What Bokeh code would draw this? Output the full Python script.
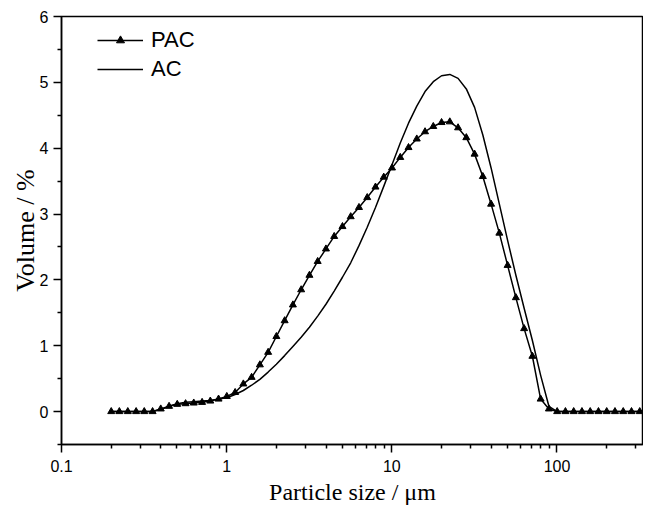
from bokeh.plotting import figure
from bokeh.models import Range1d, FixedTicker, Legend, LegendItem, ColumnDataSource
from bokeh.embed import file_html
from bokeh.resources import INLINE

# Particle size classes (µm)
sizes = [0.2, 0.224, 0.252, 0.283, 0.317, 0.356, 0.399, 0.448, 0.502, 0.564,
         0.632, 0.710, 0.796, 0.893, 1.002, 1.125, 1.262, 1.416, 1.589, 1.783,
         2.000, 2.244, 2.518, 2.825, 3.170, 3.557, 3.991, 4.477, 5.024, 5.637,
         6.325, 7.096, 7.962, 8.934, 10.024, 11.247, 12.619, 14.159, 15.887, 17.825,
         20.000, 22.440, 25.179, 28.251, 31.698, 35.566, 39.905, 44.774, 50.238, 56.368,
         63.246, 70.963, 79.621, 89.337, 100.237, 112.468, 126.191, 141.589, 158.866, 178.250,
         200.000, 224.404, 251.785, 282.508, 316.979]

pac = [0, 0, 0, 0, 0, 0, 0.04, 0.08, 0.11, 0.12,
       0.13, 0.14, 0.16, 0.19, 0.23, 0.29, 0.42, 0.52, 0.71, 0.90,
       1.14, 1.38, 1.62, 1.85, 2.07, 2.28, 2.47, 2.66, 2.81, 2.96,
       3.10, 3.25, 3.41, 3.56, 3.70, 3.86, 4.01, 4.14, 4.25, 4.33,
       4.39, 4.40, 4.31, 4.16, 3.91, 3.57, 3.15, 2.71, 2.22, 1.73,
       1.26, 0.84, 0.19, 0.04, 0, 0, 0, 0, 0, 0,
       0, 0, 0, 0, 0]

ac = [0, 0, 0, 0, 0, 0, 0.03, 0.08, 0.12, 0.14,
      0.15, 0.16, 0.17, 0.19, 0.21, 0.26, 0.32, 0.40, 0.49, 0.60,
      0.72, 0.85, 0.99, 1.13, 1.28, 1.45, 1.63, 1.83, 2.04, 2.26,
      2.52, 2.80, 3.10, 3.42, 3.75, 4.08, 4.38, 4.64, 4.86, 5.01,
      5.10, 5.12, 5.06, 4.90, 4.62, 4.20, 3.70, 3.15, 2.60, 2.07,
      1.57, 1.08, 0.55, 0.08, 0, 0, 0, 0, 0, 0,
      0, 0, 0, 0, 0]

y_ticks = [0, 1, 2, 3, 4, 5, 6]
x_ticks = [0.1, 1, 10, 100]
x_tick_labels = ["0.1", "1", "10", "100"]

src_pac = ColumnDataSource(dict(x=sizes, y=pac))
src_ac = ColumnDataSource(dict(x=sizes[:len(ac)], y=ac))

p = figure(output_backend="svg", toolbar_location=None,
           x_axis_type="log",
           x_range=Range1d(0.1, 334), y_range=Range1d(-0.5, 6),
           frame_width=582, frame_height=428,
           min_border_left=61, min_border_right=0,
           min_border_top=16, min_border_bottom=55)

p.grid.visible = False
p.outline_line_color = "black"
p.outline_line_width = 1.5
p.background_fill_color = "white"
p.border_fill_color = "white"

# Axes
minor_x = []
for d in [0.1, 1, 10, 100]:
    for m in range(2, 10):
        v = d * m
        if v < 334:
            minor_x.append(round(v, 6))
p.xaxis.ticker = FixedTicker(ticks=x_ticks, minor_ticks=minor_x)
p.xaxis.major_label_overrides = {t: l for t, l in zip(x_ticks, x_tick_labels)}
p.yaxis.ticker = FixedTicker(ticks=y_ticks, minor_ticks=[-0.5 + i for i in range(7)])

for ax in (p.xaxis[0], p.yaxis[0]):
    ax.axis_line_color = "black"
    ax.axis_line_width = 1.5
    ax.major_tick_line_color = "black"
    ax.minor_tick_line_color = "black"
    ax.major_tick_line_width = 1.5
    ax.minor_tick_line_width = 1.5
    ax.major_tick_in = 0
    ax.major_tick_out = 8
    ax.minor_tick_in = 0
    ax.minor_tick_out = 4
    ax.major_label_text_font = "Liberation Sans"
    ax.major_label_text_font_size = "16px"
    ax.major_label_text_color = "black"
    ax.axis_label_text_font = "Liberation Serif"
    ax.axis_label_text_font_style = "normal"
    ax.axis_label_text_color = "black"

p.xaxis.axis_label_text_font_size = "24px"
p.yaxis.axis_label_text_font_size = "26px"
p.xaxis.axis_label = "Particle size / \u03bcm"
p.yaxis.axis_label = "Volume / %"
p.xaxis.major_label_standoff = 7
p.yaxis.major_label_standoff = 5
p.xaxis.axis_label_standoff = 4
p.yaxis.axis_label_standoff = -3

# Series
l_pac = p.line("x", "y", source=src_pac, line_color="black", line_width=1.5)
m_pac = p.scatter("x", "y", source=src_pac, marker="triangle", size=7,
                  fill_color="black", line_color="black")
l_ac = p.line("x", "y", source=src_ac, line_color="black", line_width=1.5)

legend = Legend(items=[LegendItem(label="PAC", renderers=[l_pac, m_pac]),
                       LegendItem(label="AC", renderers=[l_ac])],
                location=(36, 362))
legend.padding = 0
legend.spacing = 3
legend.glyph_width = 46
legend.glyph_height = 20
legend.label_standoff = 8
legend.label_text_font = "Liberation Sans"
legend.label_text_font_size = "22px"
legend.label_text_color = "black"
legend.border_line_alpha = 0
legend.background_fill_alpha = 0
p.add_layout(legend, "center")

open("out.html", "w").write(file_html(p, INLINE))
